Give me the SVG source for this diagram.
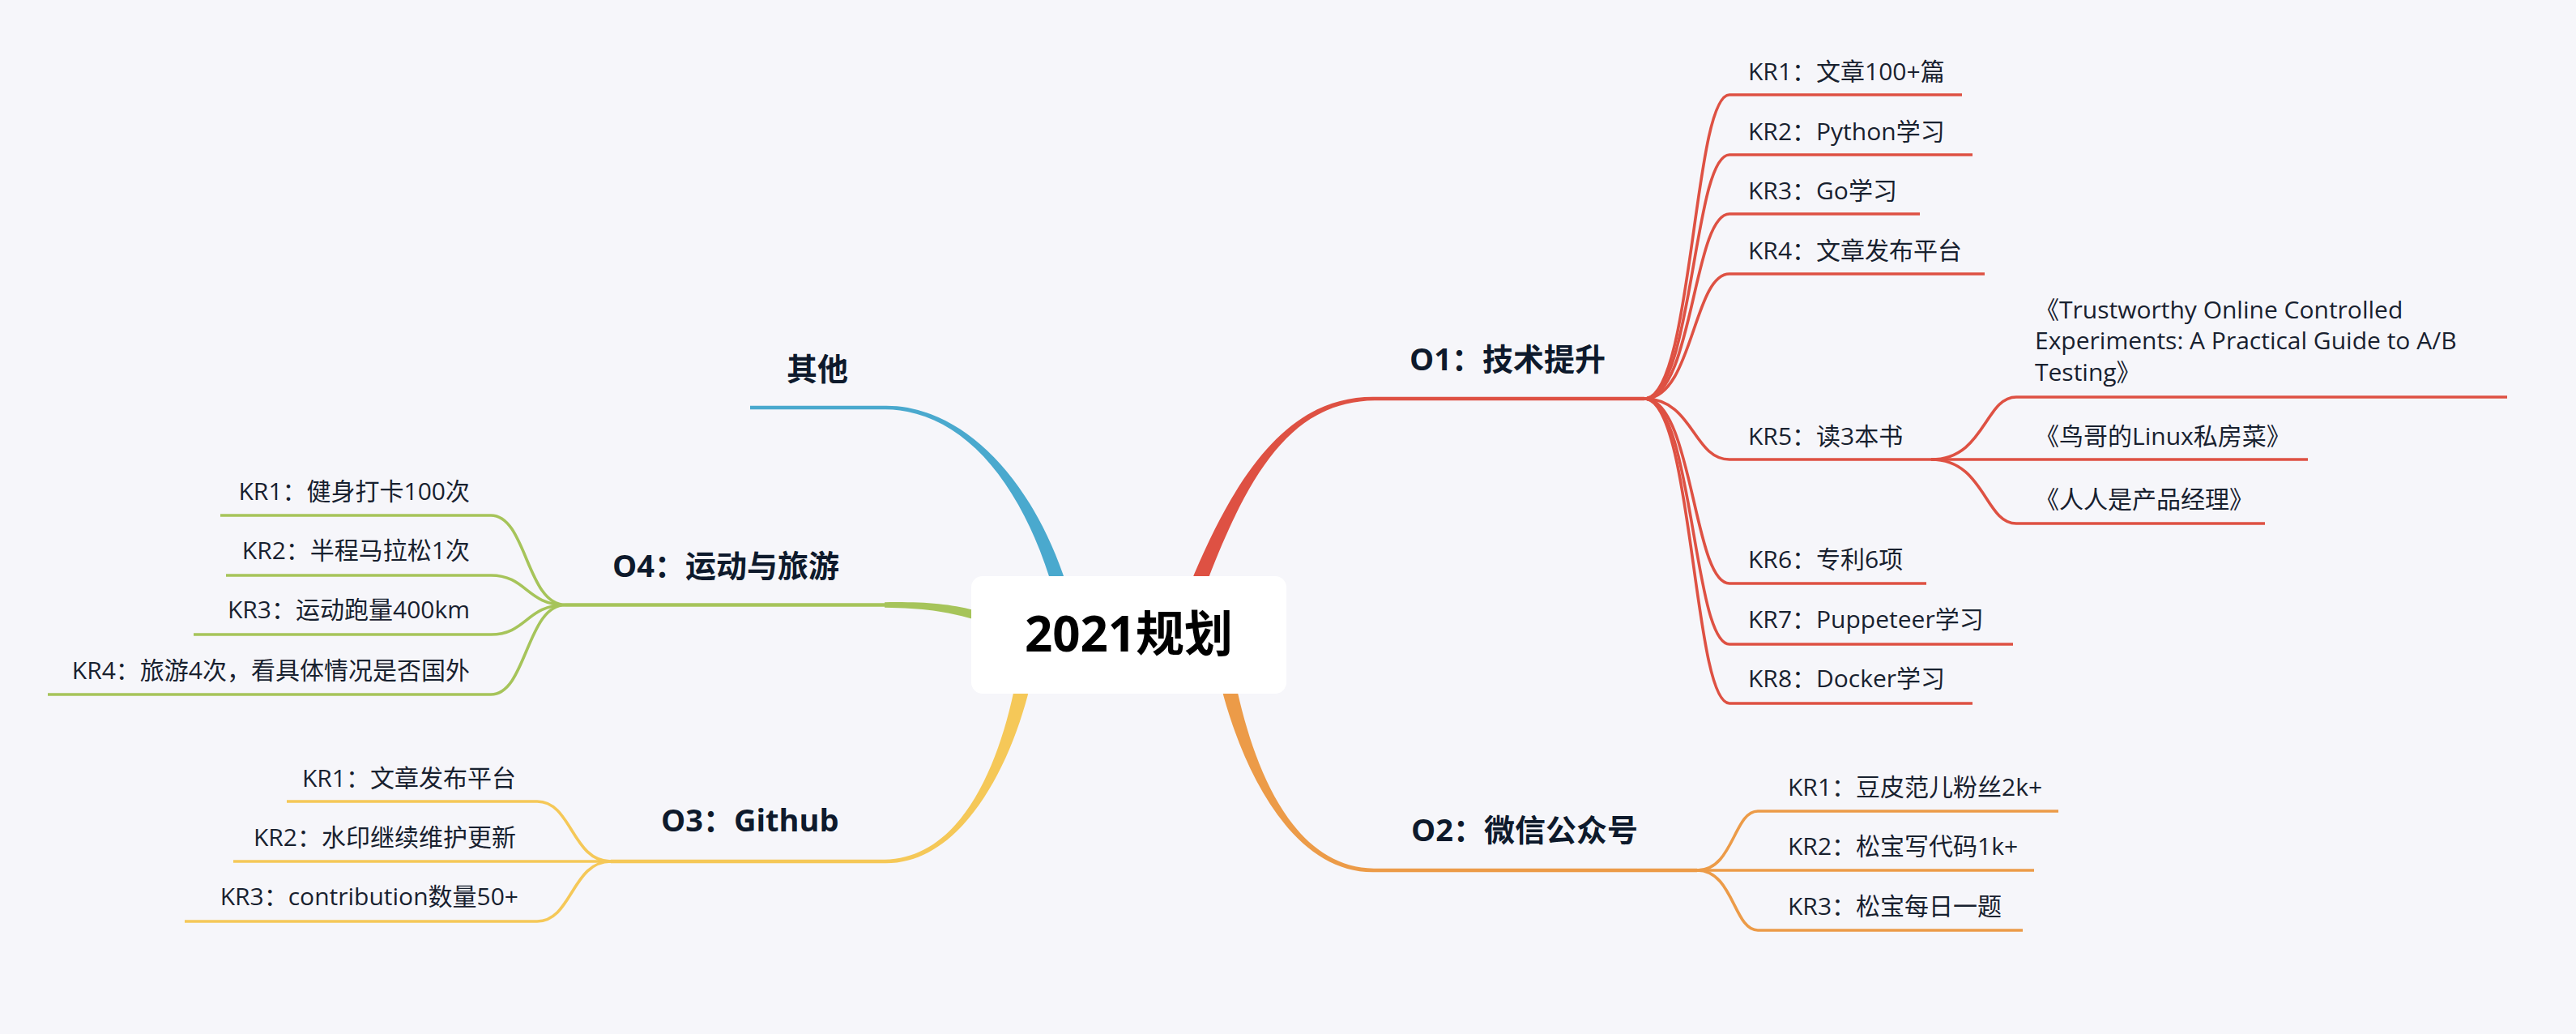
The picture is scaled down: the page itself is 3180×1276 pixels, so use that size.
<svg xmlns="http://www.w3.org/2000/svg" width="3180" height="1276" viewBox="0 0 3180 1276">
<style>
.kr{font-family:"Open Sans","Noto Sans CJK SC",sans-serif;font-size:30px;fill:#18212F}
.obj{font-family:"Open Sans","Noto Sans CJK SC",sans-serif;font-size:38px;font-weight:700;fill:#0E1A2C}
.root{font-family:"Open Sans","Noto Sans CJK SC",sans-serif;font-size:60px;font-weight:700;fill:#000}
.l{fill:none;stroke-width:3.6;stroke-linecap:butt}
.u{fill:none;stroke-width:4.5}
.red{stroke:#DE5143}.org{stroke:#EC9B48}.yel{stroke:#F5C858}.grn{stroke:#A6C45A}.blu{stroke:#4AA9CE}
</style>
<rect x="0" y="0" width="3180" height="1276" fill="#F6F6FA"/>
<g id="connectors">
  <path fill="#4AA9CE" d="M1093 500.7 C1180 500 1266.2 577.9 1312.1 708.3 L1320 732 L1304 738 L1295.9 713.7 C1253.8 582.1 1180 506 1093 505.3 Z"/>
  <path fill="#DE5143" d="M1465.3 730.8 L1474.6 707.6 C1534 567.6 1600 488.5 1697 489.7 L1697 494.3 C1600 495.5 1546 572.4 1491.4 714.4 L1482 737.6 Z"/>
  <path fill="#A6C45A" d="M1092 743.2 C1140 742.5 1171.3 745.2 1201.4 752.7 L1225.5 759.2 L1222.7 769.8 L1198.6 763.3 C1168.7 754.8 1140 750.5 1092 749.8 Z"/>
  <path fill="#F5C858" d="M1257.1 829.6 L1251.3 853.9 C1228.7 958.5 1180 1059.5 1092 1060.7 L1092 1065.3 C1180 1066.5 1241.3 961.5 1268.7 858.1 L1274.6 833.8 Z"/>
  <path fill="#EC9B48" d="M1521.6 829.6 L1527.7 853.8 C1551.3 958.4 1600 1070.5 1696 1071.7 L1696 1076.3 C1600 1077.5 1538.7 961.6 1510.3 858.2 L1504.2 833.9 Z"/>
  <path class="u blu" d="M926 503 H1093"/>
  <path class="u red" d="M1697 492 H2030"/>
  <path class="u org" d="M1696 1074 H2095"/>
  <path class="u yel" d="M1092 1063 H754"/>
  <path class="u grn" d="M1092 746.5 H698"/>
  <path class="l red" d="M2030 492 C2090 492 2090 117 2135 117 H2422"/>
  <path class="l red" d="M2030 492 C2090 492 2090 191 2135 191 H2435"/>
  <path class="l red" d="M2030 492 C2090 492 2090 264 2135 264 H2370"/>
  <path class="l red" d="M2030 492 C2090 492 2090 338 2135 338 H2450"/>
  <path class="l red" d="M2030 492 C2090 492 2090 567 2135 567 H2384"/>
  <path class="l red" d="M2030 492 C2090 492 2090 720 2135 720 H2378"/>
  <path class="l red" d="M2030 492 C2090 492 2090 795 2135 795 H2485"/>
  <path class="l red" d="M2030 492 C2090 492 2090 868 2135 868 H2435"/>
  <path class="l red" d="M2384 567 C2450 567 2450 490 2489 490 H3095"/>
  <path class="l red" d="M2384 567 H2849"/>
  <path class="l red" d="M2384 567 C2450 567 2450 646 2489 646 H2796"/>
  <path class="l org" d="M2095 1074 C2140 1074 2140 1001 2170 1001 H2541"/>
  <path class="l org" d="M2095 1074 H2511"/>
  <path class="l org" d="M2095 1074 C2140 1074 2140 1148 2170 1148 H2497"/>
  <path class="l yel" d="M754 1063 C706 1063 706 989 663 989 H354"/>
  <path class="l yel" d="M754 1063 H288"/>
  <path class="l yel" d="M754 1063 C706 1063 706 1137 663 1137 H228"/>
  <path class="l grn" d="M698 746.5 C650 746.5 650 636 606 636 H272"/>
  <path class="l grn" d="M698 746.5 C650 746.5 650 710 606 710 H279"/>
  <path class="l grn" d="M698 746.5 C650 746.5 650 783 606 783 H239"/>
  <path class="l grn" d="M698 746.5 C650 746.5 650 857 606 857 H59"/>
</g>
<g id="root">
  <rect x="1199" y="711" width="389" height="145" rx="14" fill="#FFFFFF"/>
  <text class="root" x="1393.5" y="804" text-anchor="middle">2021规划</text>
</g>
<g id="other"><text class="obj" x="971" y="469">其他</text></g>
<g id="o1"><text class="obj" x="1740" y="457">O1：技术提升</text></g>
<g id="o1-kr1"><text class="kr" x="2158" y="99">KR1：文章100+篇</text></g>
<g id="o1-kr2"><text class="kr" x="2158" y="173">KR2：Python学习</text></g>
<g id="o1-kr3"><text class="kr" x="2158" y="246">KR3：Go学习</text></g>
<g id="o1-kr4"><text class="kr" x="2158" y="320">KR4：文章发布平台</text></g>
<g id="o1-kr5"><text class="kr" x="2158" y="549">KR5：读3本书</text></g>
<g id="book1"><text class="kr" x="2512" y="393">《Trustworthy Online Controlled</text><text class="kr" x="2512" y="431">Experiments: A Practical Guide to A/B</text><text class="kr" x="2512" y="470">Testing》</text></g>
<g id="book2"><text class="kr" x="2512" y="549">《鸟哥的Linux私房菜》</text></g>
<g id="book3"><text class="kr" x="2512" y="627">《人人是产品经理》</text></g>
<g id="o1-kr6"><text class="kr" x="2158" y="701">KR6：专利6项</text></g>
<g id="o1-kr7"><text class="kr" x="2158" y="775">KR7：Puppeteer学习</text></g>
<g id="o1-kr8"><text class="kr" x="2158" y="848">KR8：Docker学习</text></g>
<g id="o2"><text class="obj" x="1742" y="1038">O2：微信公众号</text></g>
<g id="o2-kr1"><text class="kr" x="2207" y="982">KR1：豆皮范儿粉丝2k+</text></g>
<g id="o2-kr2"><text class="kr" x="2207" y="1055">KR2：松宝写代码1k+</text></g>
<g id="o2-kr3"><text class="kr" x="2207" y="1129">KR3：松宝每日一题</text></g>
<g id="o3"><text class="obj" x="816" y="1026">O3：Github</text></g>
<g id="o3-kr1"><text class="kr" x="637" y="971" text-anchor="end">KR1：文章发布平台</text></g>
<g id="o3-kr2"><text class="kr" x="637" y="1044" text-anchor="end">KR2：水印继续维护更新</text></g>
<g id="o3-kr3"><text class="kr" x="640" y="1117" text-anchor="end">KR3：contribution数量50+</text></g>
<g id="o4"><text class="obj" x="756" y="712">O4：运动与旅游</text></g>
<g id="o4-kr1"><text class="kr" x="580" y="617" text-anchor="end">KR1：健身打卡100次</text></g>
<g id="o4-kr2"><text class="kr" x="580" y="690" text-anchor="end">KR2：半程马拉松1次</text></g>
<g id="o4-kr3"><text class="kr" x="580" y="763" text-anchor="end">KR3：运动跑量400km</text></g>
<g id="o4-kr4"><text class="kr" x="580" y="838" text-anchor="end">KR4：旅游4次，看具体情况是否国外</text></g>
</svg>
